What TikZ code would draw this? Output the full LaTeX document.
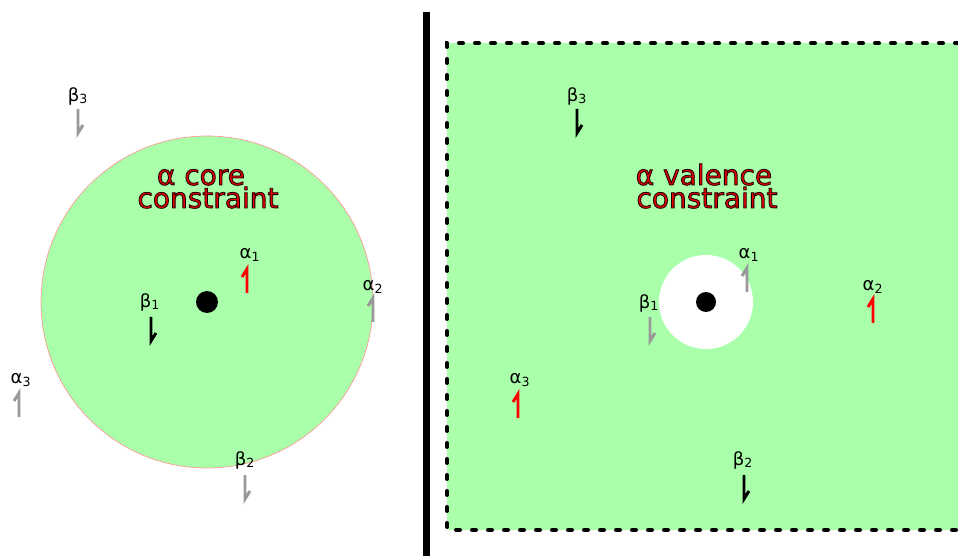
\documentclass[tikz,border=0pt]{standalone}
\usepackage{fontspec}
\setmainfont{DejaVu Sans}
\definecolor{fillgreen}{RGB}{170,255,170}
\definecolor{rimred}{RGB}{255,150,150}
\definecolor{spingray}{RGB}{153,153,153}
\definecolor{titlered}{RGB}{225,0,0}
\tikzset{
  lab/.style={inner sep=0pt, font=\fontsize{13.5}{13.5}\selectfont},
  ttl/.style={inner sep=0pt, anchor=base, text=titlered, font=\fontsize{21}{21}\selectfont},
  spin/.style={line width=2.2pt, line cap=butt, line join=miter},
}
\newcommand\hup[3]{\draw[spin,#3] ({#1},{#2+24}) -- ({#1},{#2}) -- ({#1-5},{#2+8});}
\newcommand\hdown[3]{\draw[spin,#3] ({#1},{#2}) -- ({#1},{#2+24}) -- ({#1+5},{#2+16});}
\newcommand\stroked[1]{\special{pdf:code 2 Tr 0.6 w 0.1 0 0 RG}#1\special{pdf:code 0 Tr}}
\begin{document}
\begin{tikzpicture}[x=0.75pt,y=-0.75pt]
\useasboundingbox (0,0) rectangle (958,556);
\clip (0,0) rectangle (958,556);
% left panel
\fill[fillgreen] (207,302) circle[radius=166];
\draw[rimred, line width=0.5pt] (207,302) circle[radius=166];
\fill[black] (207,302) circle[radius=11];
\node[ttl] (tl1) at (201,185) {\stroked{α core}};
\node[ttl] (tl2) at (208,208) {\stroked{constraint}};
\node[lab] (la1) at (250,255) {α\textsubscript{1}};
\hup{247}{269}{red}
\node[lab] (lb1) at (150,302) {β\textsubscript{1}};
\hdown{151}{317}{black}
\node[lab] (la2) at (373,287) {α\textsubscript{2}};
\hup{373}{298}{spingray}
\node[lab] (la3) at (21,380) {α\textsubscript{3}};
\hup{19}{393}{spingray}
\node[lab] (lb3) at (78,96) {β\textsubscript{3}};
\hdown{78}{109}{spingray}
\node[lab] (lb2) at (245,460) {β\textsubscript{2}};
\hdown{245}{475}{spingray}
% divider
\draw[line width=5.25pt] (426,12) -- (426,560);
% right panel
\fill[fillgreen] (447,43) rectangle (975,530);
\draw[line width=3pt, dash pattern=on 3pt off 9pt, line cap=round] (975,43) -- (447,43) -- (447,530) -- (975,530);
\fill[white] (706,302) circle[radius=47];
\fill[black] (706,302) circle[radius=10];
\node[ttl] (tr1) at (704,185) {\stroked{α valence}};
\node[ttl] (tr2) at (707,208) {\stroked{constraint}};
\node[lab] (ra1) at (749,255) {α\textsubscript{1}};
\hup{747}{268}{spingray}
\node[lab] (rb1) at (649,303) {β\textsubscript{1}};
\hdown{650}{317}{spingray}
\node[lab] (ra2) at (873,287) {α\textsubscript{2}};
\hup{873}{299}{red}
\node[lab] (ra3) at (520,380) {α\textsubscript{3}};
\hup{518}{394}{red}
\node[lab] (rb3) at (577,96) {β\textsubscript{3}};
\hdown{577}{109}{black}
\node[lab] (rb2) at (743,460) {β\textsubscript{2}};
\hdown{744}{475}{black}
\end{tikzpicture}
\end{document}
